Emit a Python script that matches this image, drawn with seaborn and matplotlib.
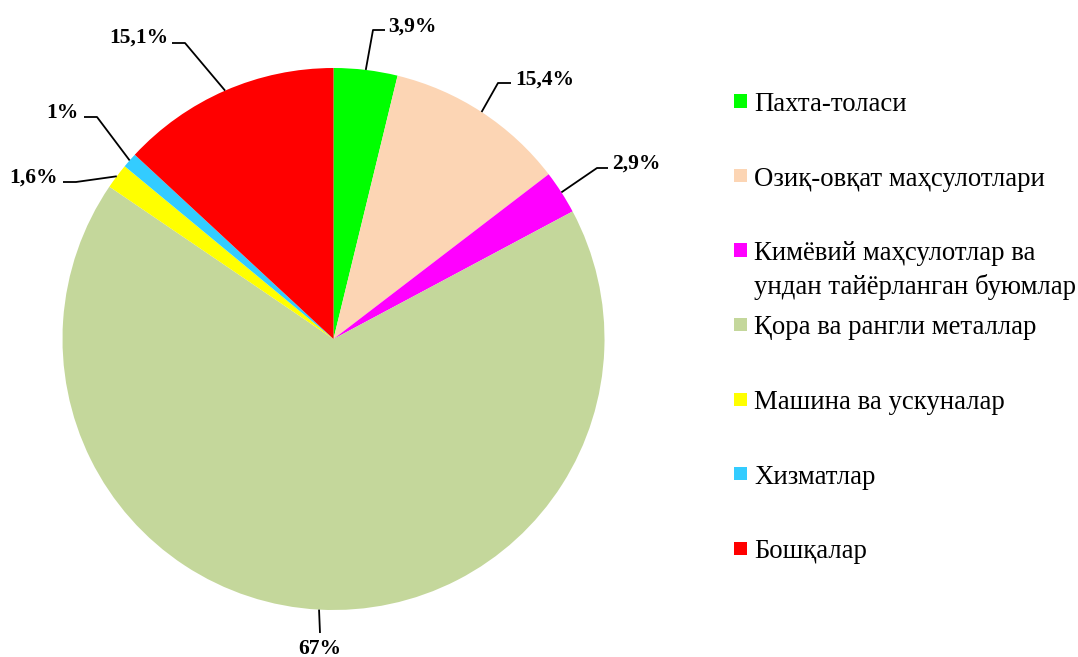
import numpy as np
import matplotlib.pyplot as plt
import seaborn as sns
from matplotlib.patches import Rectangle

# --- данные ---
categories = ["Пахта-толаси",
              "Озиқ-овқат маҳсулотлари",
              "Кимёвий маҳсулотлар ва\nундан тайёрланган буюмлар",
              "Қора ва рангли металлар",
              "Машина ва ускуналар",
              "Хизматлар",
              "Бошқалар"]
# размеры секторов, как они нарисованы на картинке
shares = [3.8, 10.8, 2.6, 67.3, 1.5, 0.9, 13.1]
# подписи, как они напечатаны на диаграмме
pct_labels = ["3,9%", "15,4%", "2,9%", "67%", "1,6%", "1%", "15,1%"]
colors = ["#00FF00", "#FCD5B4", "#FF00FF", "#C4D79B", "#FFFF00", "#33CCFF", "#FF0000"]

# --- геометрия (пиксели) ---
W, H, DPI = 1078, 657, 100
CX, CY, R = 333.5, 339, 271

# выноски: точки излома и положение текста
leaders = [
    ([(373, 30), (385, 30)], (388, 24.5), "left"),
    ([(498, 83), (511, 83)], (515, 77.5), "left"),
    ([(597, 168), (608, 168)], (612, 161), "left"),
    ([(320, 633)], (320, 646), "center"),
    ([(76, 182), (63, 182)], (58, 175.5), "right"),
    ([(97, 117), (84, 117)], (79, 110), "right"),
    ([(185, 43), (172, 43)], (168, 35.5), "right"),
]


def to_data(px, py):
    return (px - CX) / R, (CY - py) / R


sns.set_theme(style="white")
plt.rcParams['font.family'] = ['Liberation Serif', 'DejaVu Serif']

fig = plt.figure(figsize=(W / DPI, H / DPI), dpi=DPI)
fig.patch.set_facecolor("white")
ax = fig.add_axes([(CX - R) / W, (H - CY - R) / H, 2 * R / W, 2 * R / H])

wedges, _ = ax.pie(shares, colors=colors, startangle=90, counterclock=False,
                   wedgeprops=dict(linewidth=0, edgecolor="none"))
ax.set_xlim(-1, 1)
ax.set_ylim(-1, 1)
ax.axis("off")

# подписи данных с выносками
for w, lab, (elbows, tpos, ha) in zip(wedges, pct_labels, leaders):
    ang = np.deg2rad((w.theta1 + w.theta2) / 2)
    xs = [np.cos(ang)] + [to_data(*p)[0] for p in elbows]
    ys = [np.sin(ang)] + [to_data(*p)[1] for p in elbows]
    ax.plot(xs, ys, color="black", lw=1.3, clip_on=False, solid_capstyle="butt")
    tx, ty = to_data(*tpos)
    ax.text(tx, ty, lab, ha=ha, va="center_baseline", fontsize=15.5,
            fontweight="bold", color="black")

# легенда
base0, step = 111, 74.5
for i, (name, c) in enumerate(zip(categories, colors)):
    yb = base0 + i * step
    fig.add_artist(Rectangle((734 / W, 1 - (yb - 3.5) / H), 13 / W, 13 / H,
                             transform=fig.transFigure, facecolor=c,
                             edgecolor="none"))
    for k, line in enumerate(name.split("\n")):
        fig.text(754 / W, 1 - (yb + k * 34) / H, line, ha="left",
                 va="baseline", fontsize=19.3, color="black")

fig.savefig("out.png", dpi=DPI, facecolor="white")
